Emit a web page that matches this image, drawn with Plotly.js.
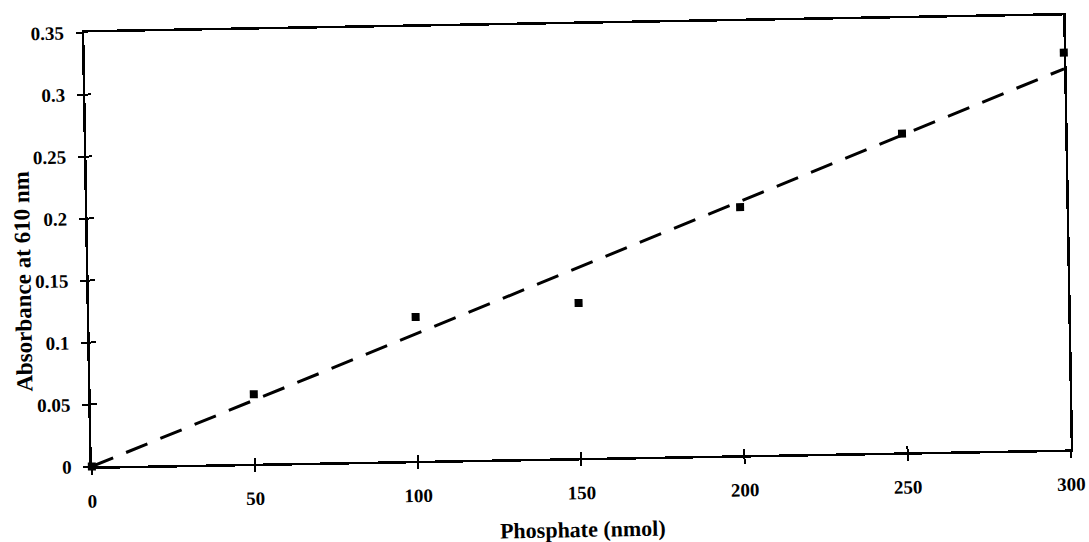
<!DOCTYPE html>
<html>
<head>
<meta charset="utf-8">
<script src="https://cdn.plot.ly/plotly-3.0.1.min.js"></script>
<style>
  html, body { margin: 0; padding: 0; background: #fff; }
  #plot { width: 1089px; height: 542px; transform: rotate(-1deg); transform-origin: 577px 241px; }
</style>
</head>
<body>
<div id="plot"></div>
<script>
// Data
var phosphate = [0, 50, 100, 150, 200, 250, 300];          // nmol
var absorbance = [0, 0.056, 0.116, 0.125, 0.200, 0.257, 0.320]; // A610
var trendX = [0, 300];
var trendY = [0, 0.307];
var xTickVals = [0, 50, 100, 150, 200, 250, 300];
var xTickText = ["0", "50", "100", "150", "200", "250", "300"];
var yTickVals = [0, 0.05, 0.1, 0.15, 0.2, 0.25, 0.3, 0.35];
var yTickText = ["0", "0.05", "0.1", "0.15", "0.2", "0.25", "0.3", "0.35"];
var xTitle = "Phosphate (nmol)";
var yTitle = "Absorbance at 610 nm";

var serif = "Liberation Serif, Times New Roman, serif";

var traces = [
  {
    x: trendX, y: trendY, type: "scatter", mode: "lines",
    line: { color: "#000", width: 3, dash: "23px,14px" },
    hoverinfo: "skip", showlegend: false, cliponaxis: false
  },
  {
    x: phosphate, y: absorbance, type: "scatter", mode: "markers",
    marker: { symbol: "square", size: 8, color: "#000" },
    showlegend: false, cliponaxis: false
  },
  {
    // empty trace so the overlaying tick axes (inner half of crossing ticks) are drawn
    x: [], y: [], xaxis: "x2", yaxis: "y2", type: "scatter", mode: "markers",
    showlegend: false, hoverinfo: "skip"
  }
];

var axisCommon = {
  showgrid: false, zeroline: false, showline: true, linecolor: "#000", linewidth: 2.5,
  mirror: true, ticks: "outside", ticklen: 6, tickwidth: 2, tickcolor: "#000",
  tickfont: { family: serif, size: 19, color: "#000", weight: 700 }
};

var layout = {
  width: 1089, height: 542,
  margin: { l: 88, r: 22, t: 24, b: 84 },
  paper_bgcolor: "#fff", plot_bgcolor: "#fff",
  showlegend: false,
  xaxis: Object.assign({}, axisCommon, {
    range: [0, 300], tickvals: xTickVals, ticktext: xTickText, ticklabelstandoff: 10
  }),
  yaxis: Object.assign({}, axisCommon, {
    range: [0, 0.35], tickvals: yTickVals, ticktext: yTickText, ticklabelstandoff: 8
  }),
  xaxis2: {
    overlaying: "x", anchor: "y", side: "bottom", range: [0, 300], tickvals: xTickVals,
    showticklabels: false, showgrid: false, zeroline: false, showline: false,
    ticks: "inside", ticklen: 6, tickwidth: 2, tickcolor: "#000"
  },
  yaxis2: {
    overlaying: "y", anchor: "x", side: "left", range: [0, 0.35], tickvals: yTickVals,
    showticklabels: false, showgrid: false, zeroline: false, showline: false,
    ticks: "inside", ticklen: 6, tickwidth: 2, tickcolor: "#000"
  },
  annotations: [
    {
      text: xTitle, xref: "x", yref: "paper", x: 150, y: 0,
      xanchor: "center", yanchor: "middle", yshift: -71, showarrow: false,
      font: { family: serif, size: 22, color: "#000", weight: 700 }
    },
    {
      text: yTitle, xref: "paper", yref: "y", x: 0, y: 0.15,
      xanchor: "center", yanchor: "middle", xshift: -66, textangle: -90, showarrow: false,
      font: { family: serif, size: 23, color: "#000", weight: 700 }
    }
  ]
};

Plotly.newPlot("plot", traces, layout, { displayModeBar: false, staticPlot: true });
</script>
</body>
</html>
